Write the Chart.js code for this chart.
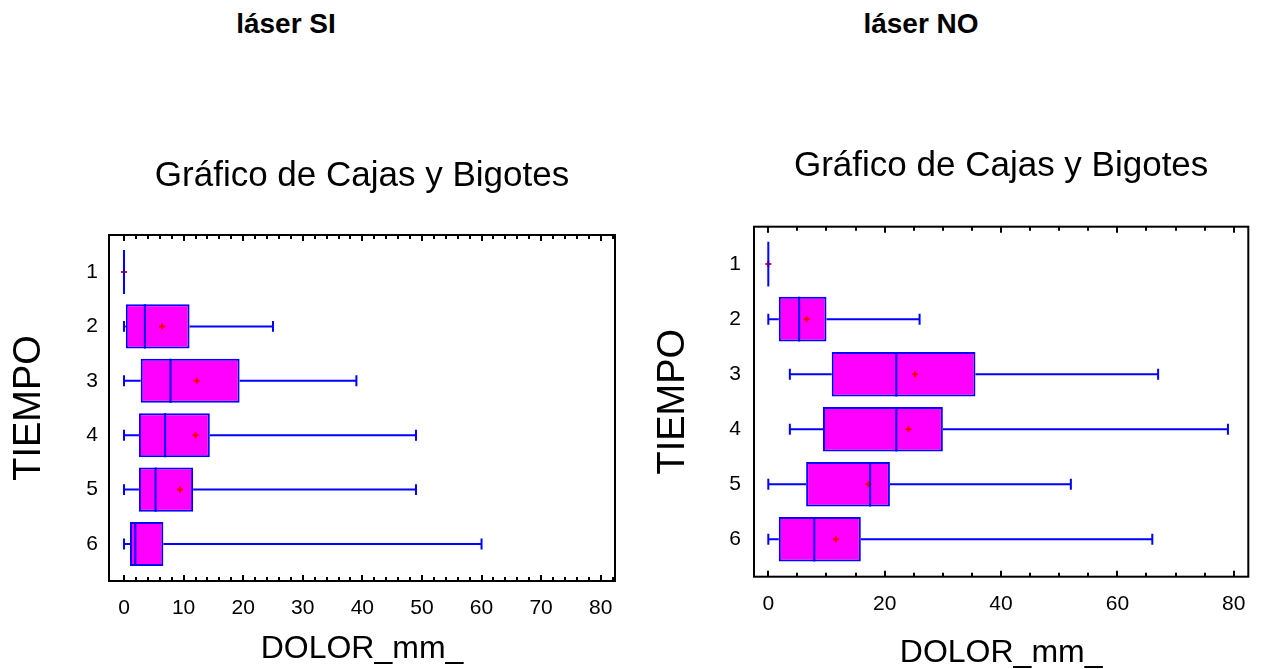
<!DOCTYPE html>
<html>
<head>
<meta charset="utf-8">
<script src="https://cdn.jsdelivr.net/npm/chart.js@4/dist/chart.umd.min.js"></script>
<style>
  body { margin: 0; width: 1261px; height: 669px; overflow: hidden; background: #fff; position: relative;
         font-family: "Liberation Sans", Arial, sans-serif; }
  .hd { position: absolute; top: 10px; font-weight: bold; font-size: 28px; line-height: 28px;
        transform: translateX(-50%); white-space: nowrap; color: #000; }
  #hSi { left: 286px; }
  #hNo { left: 921px; }
  #wrapSi { position: absolute; left: 0; top: 0; width: 640px; height: 669px; }
  #wrapNo { position: absolute; left: 640px; top: 0; width: 621px; height: 669px; }
</style>
</head>
<body>
<div class="hd" id="hSi">láser SI</div>
<div class="hd" id="hNo">láser NO</div>
<div id="wrapSi"><canvas id="chartSi"></canvas></div>
<div id="wrapNo"><canvas id="chartNo"></canvas></div>
<script>
// TIEMPO categories
const tiempo = [1, 2, 3, 4, 5, 6];

// láser SI : DOLOR_mm_
const siMin  = [0, 0,   0,    0,    0,    0];
const siQ1   = [0, 0.3, 2.8,  2.5,  2.5,  1];
const siMed  = [0, 3.5, 7.8,  6.9,  5.3,  1.9];
const siQ3   = [0, 11,  19.4, 14.4, 11.6, 6.6];
const siMax  = [0, 25,  39,   49,   49,   60];
const siMean = [0, 6.4, 12.2, 12,   9.4,  null];

// láser NO : DOLOR_mm_
const noMin  = [0, 0,   3.7,  3.7,  0,    0];
const noQ1   = [0, 1.8, 10.9, 9.4,  6.5,  1.8];
const noMed  = [0, 5.3, 22,   22,   17.5, 7.9];
const noQ3   = [0, 10,  35.6, 30,   20.9, 15.9];
const noMax  = [0, 26,  67,   79,   52,   66];
const noMean = [0, 6.6, 25.2, 24.1, 17.2, 11.6];

const FONT = '"Liberation Sans", Arial, sans-serif';
const BLUE = '#0000ff';

// whiskers, caps, medians, frame and inward ticks
const boxPlugin = {
  id: 'boxWhisker',
  afterDatasetsDraw(chart, args, o) {
    const { ctx, chartArea: a, scales: { x, y } } = chart;
    const bars = chart.getDatasetMeta(0).data;
    ctx.save();
    ctx.strokeStyle = BLUE;
    ctx.lineWidth = 2;
    tiempo.forEach((t, i) => {
      const py = y.getPixelForValue(t);
      const h = bars[i].height / 2;
      const cap = Math.abs(y.getPixelForValue(t + 0.1) - py);
      const pMin = x.getPixelForValue(o.min[i]);
      const pQ1 = x.getPixelForValue(o.q1[i]);
      const pQ3 = x.getPixelForValue(o.q3[i]);
      const pMax = x.getPixelForValue(o.max[i]);
      const pMed = x.getPixelForValue(o.med[i]);
      ctx.beginPath();
      ctx.moveTo(pMin, py); ctx.lineTo(pQ1, py);
      ctx.moveTo(pQ3, py); ctx.lineTo(pMax, py);
      ctx.moveTo(pMin, py - cap); ctx.lineTo(pMin, py + cap);
      ctx.moveTo(pMax, py - cap); ctx.lineTo(pMax, py + cap);
      ctx.moveTo(pMed, py - h); ctx.lineTo(pMed, py + h);
      ctx.stroke();
    });
    // frame
    ctx.strokeStyle = '#000';
    ctx.lineWidth = 2;
    ctx.strokeRect(a.left, a.top, a.right - a.left, a.bottom - a.top);
    // inward ticks top and bottom
    ctx.beginPath();
    x.ticks.forEach(tk => {
      if (tk.value < 0) return;
      const px = Math.round(x.getPixelForValue(tk.value));
      const len = tk.value % o.major === 0 ? 6 : 4;
      ctx.moveTo(px, a.bottom); ctx.lineTo(px, a.bottom - len);
      ctx.moveTo(px, a.top); ctx.lineTo(px, a.top + len);
    });
    ctx.stroke();
    ctx.restore();
  }
};

function makeChart(id, s) {
  return new Chart(document.getElementById(id), {
    type: 'bar',
    data: {
      datasets: [{
        data: tiempo.map((t, i) => ({ y: t, x: [s.q1[i], s.q3[i]] })),
        backgroundColor: '#ff00ff',
        borderColor: BLUE,
        borderWidth: 2,
        borderSkipped: false,
        categoryPercentage: 1,
        barPercentage: 0.81,
        order: 2
      }, {
        type: 'scatter',
        data: tiempo.map((t, i) => ({ y: t, x: s.mean[i] })),
        pointStyle: 'cross',
        radius: 3,
        borderColor: '#ff0000',
        borderWidth: 2,
        order: 1
      }]
    },
    options: {
      indexAxis: 'y',
      responsive: true,
      maintainAspectRatio: false,
      animation: false,
      devicePixelRatio: 1,
      layout: { padding: { left: 0, right: s.padRight, top: 0, bottom: 0 } },
      plugins: {
        legend: { display: false },
        tooltip: { enabled: false },
        title: {
          display: true,
          fullSize: false,
          text: 'Gráfico de Cajas y Bigotes',
          color: '#000',
          font: { family: FONT, size: 35, weight: 'normal' },
          padding: { top: s.titleTop, bottom: s.titleBottom }
        },
        boxWhisker: { min: s.min, q1: s.q1, med: s.med, q3: s.q3, max: s.max, major: s.major }
      },
      scales: {
        x: {
          type: 'linear',
          min: s.xMin,
          max: s.xMax,
          grid: { display: false, drawTicks: false },
          border: { display: false },
          ticks: {
            stepSize: s.minor,
            includeBounds: false,
            autoSkip: false,
            maxRotation: 0,
            padding: 15,
            color: '#000',
            font: { family: FONT, size: 21 },
            callback: v => (v >= 0 && v % s.major === 0) ? v : ''
          },
          title: {
            display: true,
            text: 'DOLOR_mm_',
            color: '#000',
            font: { family: FONT, size: 32 },
            padding: { top: 0, bottom: s.xTitlePad }
          },
          afterFit: sc => { sc.height = s.xHeight; }
        },
        y: {
          type: 'linear',
          reverse: true,
          offset: false,
          min: 0.32,
          max: 6.68,
          grid: { display: false, drawTicks: false },
          border: { display: false },
          ticks: {
            stepSize: 1,
            includeBounds: false,
            padding: s.yPad,
            color: '#000',
            font: { family: FONT, size: 21 }
          },
          title: {
            display: true,
            text: 'TIEMPO',
            color: '#000',
            font: { family: FONT, size: 38 },
            padding: { top: s.yTitlePad, bottom: 0 }
          },
          afterFit: sc => { sc.width = s.yWidth; }
        }
      }
    },
    plugins: [boxPlugin]
  });
}

makeChart('chartSi', {
  min: siMin, q1: siQ1, med: siMed, q3: siQ3, max: siMax, mean: siMean,
  xMin: -2.52, xMax: 82.4, minor: 2, major: 10,
  padRight: 25, yWidth: 109, yPad: 11, yTitlePad: 7,
  xHeight: 88, xTitlePad: 1, titleTop: 155.5, titleBottom: 37.5
});

makeChart('chartNo', {
  min: noMin, q1: noQ1, med: noMed, q3: noQ3, max: noMax, mean: noMean,
  xMin: -2.46, xMax: 82.5, minor: 5, major: 20,
  padRight: 12.7, yWidth: 114, yPad: 13, yTitlePad: 11,
  xHeight: 92.3, xTitlePad: -3, titleTop: 145, titleBottom: 39.7
});
</script>
</body>
</html>
